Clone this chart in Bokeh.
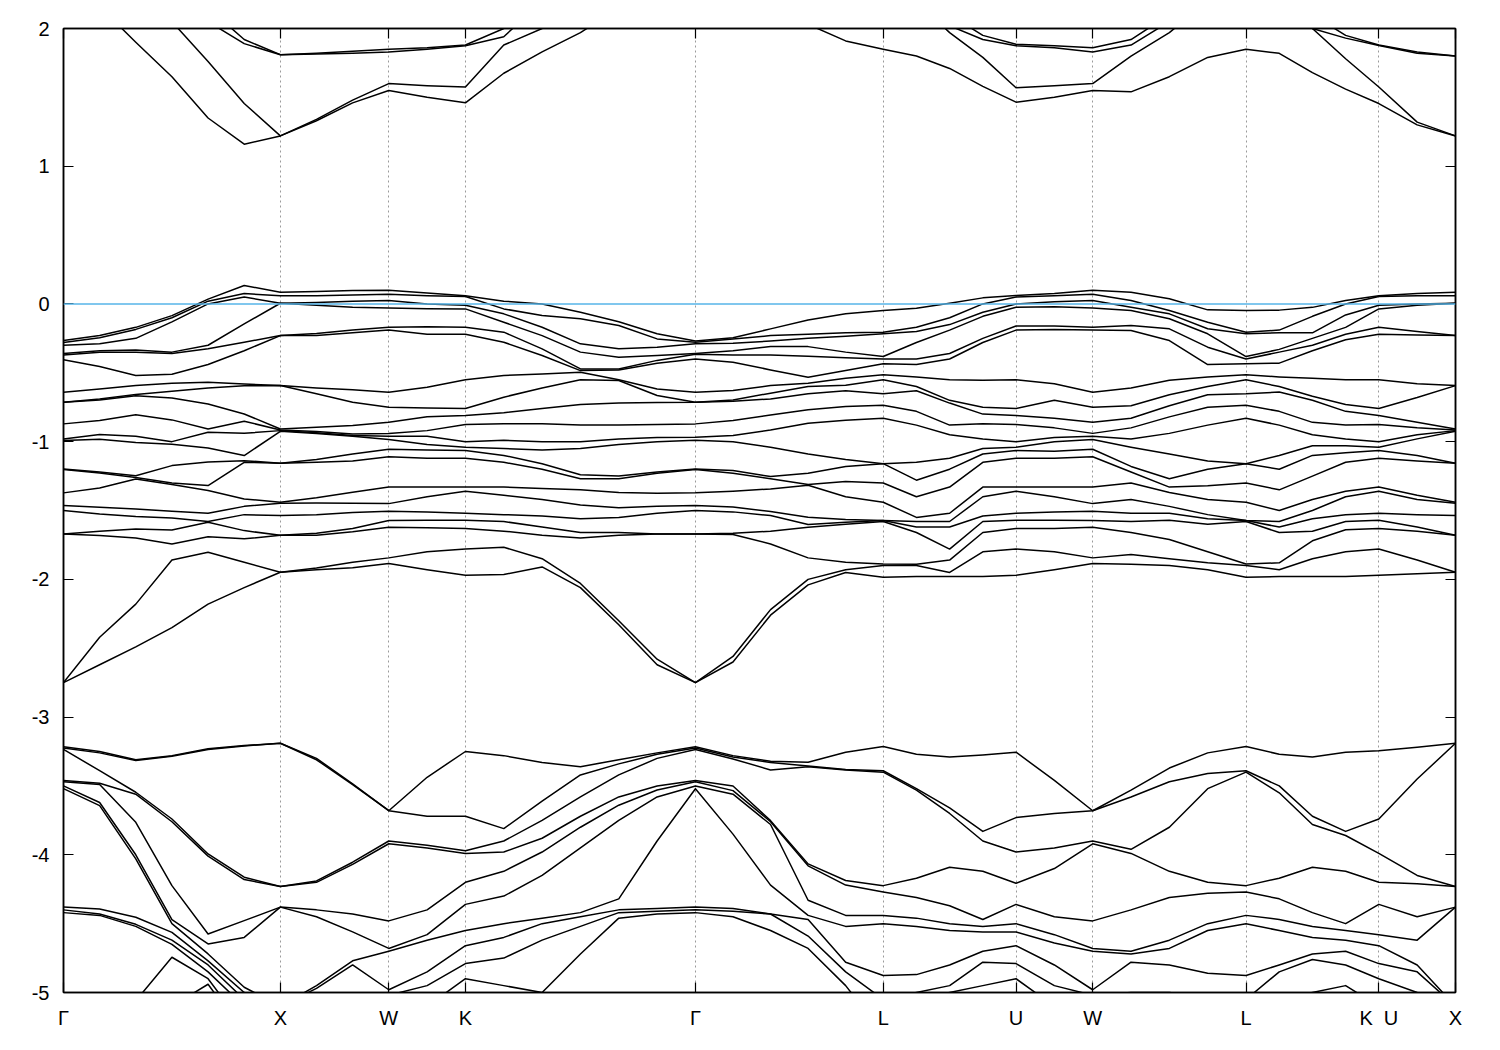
import numpy as np
from bokeh.plotting import figure
from bokeh.models import FixedTicker, LinearAxis, Span, CustomJSTickFormatter
from bokeh.embed import file_html
from bokeh.resources import INLINE

# ---- path through the Brillouin zone (units of 2*pi/a) ----
HSYM_LABELS = ["\u0393", "X", "W", "K", "\u0393", "L", "U", "W", "L", "K\u00a0\u00a0U", "X"]
HSYM_K = [0.0, 1.0, 1.5, 1.8536, 2.9142, 3.7802, 4.3926, 4.7462, 5.4533, 6.0657, 6.4193]
SEG_STEPS = [6, 3, 2, 6, 5, 4, 2, 4, 4, 2]
Y_TICKS = [-5, -4, -3, -2, -1, 0, 1, 2]
Y_TICK_LABELS = ["-5", "-4", "-3", "-2", "-1", "0", "1", "2"]
FERMI_LEVEL = 0.0

# ---- band energies (eV) read at each k-point of the path; order inside a list does not matter ----
E_00 = [2.42, 2.9, 3.1, 3.3,
        -0.265, -0.28, -0.30, -0.36, -0.37, -0.405, -0.641, -0.714, -0.714, -0.871, -0.98, -0.992, -1.198, -1.203, -1.372, -1.464, -1.50, -1.67, -1.67, -2.75, -2.75,
        -3.215, -3.225, -3.235, -3.46, -3.47, -3.50, -3.52, -4.38, -4.40, -4.42, -5.4, -5.6, -5.8, -6.0]
E_01 = [2.16, 2.6, 2.8, 3.0,
        -0.23, -0.245, -0.29, -0.34, -0.35, -0.455, -0.617, -0.69, -0.697, -0.847, -0.949, -0.983, -1.227, -1.22, -1.336, -1.476, -1.525, -1.65, -1.682, -2.42, -2.62,
        -3.25, -3.26, -3.389, -3.48, -3.49, -3.62, -3.643, -4.393, -4.43, -4.44, -5.4, -5.6, -5.8, -6.0]
E_02 = [1.90, 2.35, 2.5, 2.7,
        -0.17, -0.185, -0.25, -0.335, -0.35, -0.52, -0.593, -0.658, -0.666, -0.804, -0.961, -1.007, -1.271, -1.26, -1.247, -1.49, -1.544, -1.634, -1.699, -2.18, -2.49,
        -3.31, -3.315, -3.764, -3.546, -3.56, -4.0, -4.03, -4.454, -4.505, -4.52, -5.06, -5.4, -5.7, -5.9]
E_03 = [1.65, 2.05, 2.25, 2.4,
        -0.085, -0.10, -0.13, -0.35, -0.36, -0.51, -0.576, -0.634, -0.683, -0.842, -1.0, -1.019, -1.312, -1.30, -1.174, -1.505, -1.554, -1.641, -1.743, -1.86, -2.35,
        -3.28, -3.285, -4.224, -3.74, -3.76, -4.47, -4.50, -4.563, -4.62, -4.65, -4.744, -5.1, -5.6, -5.8]
E_04 = [1.35, 1.76, 2.05, 2.15,
        0.035, 0.02, 0.0, -0.30, -0.326, -0.44, -0.569, -0.61, -0.726, -0.908, -0.932, -1.046, -1.319, -1.355, -1.147, -1.52, -1.585, -1.69, -1.803, -1.58, -2.18,
        -3.23, -3.235, -4.647, -3.994, -4.01, -4.90, -4.94, -4.72, -4.77, -4.80, -4.575, -4.85, -5.45, -5.6]
E_05 = [1.16, 1.455, 1.89, 1.92,
        0.134, 0.075, 0.05, -0.145, -0.278, -0.34, -0.581, -0.595, -0.799, -0.939, -0.852, -1.101, -1.138, -1.416, -1.15, -1.53, -1.646, -1.706, -1.876, -1.47, -2.06,
        -3.207, -3.21, -5.1, -4.163, -4.18, -5.25, -5.3, -4.962, -5.0, -5.05, -4.478, -4.6, -5.3, -5.4]
E_06 = [1.22, 1.22, 1.81, 1.81,
        0.085, 0.06, 0.005, 0.005, -0.23, -0.23, -0.593, -0.593, -0.908, -0.915, -0.92, -0.925, -1.157, -1.157, -1.44, -1.447, -1.537, -1.68, -1.68, -1.948, -1.948,
        -3.19, -3.19, -4.23, -4.23, -4.38, -4.38, -5.1, -5.1, -5.2, -5.25, -5.3, -5.3, -5.45, -5.5]
E_07 = [1.33, 1.34, 1.815, 1.82,
        0.09, 0.06, 0.01, -0.01, -0.215, -0.23, -0.61, -0.653, -0.896, -0.927, -0.935, -0.94, -1.13, -1.15, -1.408, -1.445, -1.53, -1.665, -1.68, -1.917, -1.93,
        -3.30, -3.31, -4.19, -4.20, -4.40, -4.45, -4.95, -4.97, -5.3, -5.35, -5.35, -5.4, -5.5, -5.55]
E_08 = [1.46, 1.48, 1.82, 1.835,
        0.097, 0.065, 0.02, -0.025, -0.19, -0.21, -0.624, -0.714, -0.883, -0.944, -0.955, -0.96, -1.09, -1.14, -1.367, -1.447, -1.515, -1.63, -1.655, -1.876, -1.915,
        -3.485, -3.49, -4.054, -4.07, -4.43, -4.56, -4.77, -4.80, -5.3, -5.35, -5.4, -5.45, -5.55, -5.6]
E_09 = [1.55, 1.60, 1.83, 1.85,
        0.10, 0.07, 0.025, -0.03, -0.17, -0.19, -0.641, -0.75, -0.86, -0.94, -0.96, -0.985, -1.055, -1.11, -1.33, -1.45, -1.505, -1.573, -1.622, -1.844, -1.885,
        -3.68, -3.68, -3.90, -3.92, -4.48, -4.68, -4.70, -4.98, -5.02, -5.2, -5.3, -5.5, -5.7, -5.8]
E_10 = [1.50, 1.585, 1.85, 1.86,
        0.08, 0.06, 0.0, -0.035, -0.165, -0.22, -0.605, -0.755, -0.82, -0.92, -0.96, -1.02, -1.06, -1.12, -1.33, -1.40, -1.51, -1.57, -1.625, -1.80, -1.93,
        -3.437, -3.72, -3.93, -3.95, -4.40, -4.58, -4.62, -4.85, -4.95, -5.1, -5.3, -5.4, -5.6, -5.8]
E_11 = [1.46, 1.575, 1.875, 1.88,
        0.06, 0.054, -0.01, -0.036, -0.17, -0.22, -0.55, -0.76, -0.81, -0.876, -1.0, -1.04, -1.065, -1.12, -1.33, -1.36, -1.52, -1.57, -1.63, -1.78, -1.97,
        -3.25, -3.72, -3.97, -3.99, -4.20, -4.36, -4.55, -4.66, -4.79, -4.90, -5.1, -5.3, -5.5, -5.7]
E_12 = [1.675, 1.88, 1.94, 2.0,
        0.02, -0.036, -0.072, -0.133, -0.205, -0.278, -0.52, -0.677, -0.79, -0.87, -0.99, -1.05, -1.10, -1.15, -1.33, -1.39, -1.53, -1.58, -1.65, -1.767, -1.965,
        -3.28, -3.81, -3.90, -3.98, -4.12, -4.30, -5.4, -4.50, -4.60, -4.75, -4.95, -5.15, -5.35, -5.75]
E_13 = [1.83, 2.0, 2.2, 2.25,
        0.0, -0.084, -0.169, -0.23, -0.326, -0.375, -0.508, -0.61, -0.76, -0.87, -1.0, -1.06, -1.16, -1.20, -1.34, -1.42, -1.54, -1.62, -1.68, -1.85, -1.91,
        -3.33, -3.61, -3.75, -3.88, -3.98, -4.15, -5.05, -4.46, -4.50, -4.62, -5.0, -5.2, -5.4, -5.8]
E_14 = [1.97, 2.3, 2.45, 2.5,
        -0.06, -0.108, -0.29, -0.35, -0.472, -0.484, -0.496, -0.55, -0.73, -0.88, -1.0, -1.05, -1.24, -1.27, -1.35, -1.46, -1.56, -1.66, -1.70, -2.03, -2.06,
        -3.36, -3.42, -3.58, -3.72, -3.80, -3.95, -4.72, -4.42, -4.45, -4.52, -5.1, -5.3, -5.5, -5.85]
E_15 = [2.15, 2.5, 2.6, 2.7,
        -0.13, -0.157, -0.326, -0.387, -0.556, -0.551, -0.472, -0.48, -0.72, -0.88, -0.98, -1.02, -1.25, -1.27, -1.37, -1.48, -1.55, -1.68, -1.66, -2.30, -2.33,
        -3.34, -3.31, -3.42, -3.58, -3.64, -3.75, -4.32, -4.40, -4.42, -4.46, -5.2, -5.4, -5.6, -5.9]
E_16 = [2.30, 2.7, 2.8, 2.9,
        -0.217, -0.254, -0.314, -0.375, -0.617, -0.665, -0.43, -0.41, -0.715, -0.875, -0.97, -1.0, -1.22, -1.23, -1.375, -1.47, -1.52, -1.67, -1.67, -2.58, -2.62,
        -3.27, -3.26, -3.30, -3.50, -3.53, -3.58, -3.90, -4.39, -4.41, -4.43, -5.3, -5.5, -5.7, -5.95]
E_17 = [2.45, 2.8, 2.9, 3.0,
        -0.27, -0.278, -0.29, -0.36, -0.365, -0.40, -0.641, -0.714, -0.714, -0.871, -0.968, -0.99, -1.198, -1.203, -1.372, -1.464, -1.50, -1.67, -1.67, -2.75, -2.75,
        -3.215, -3.225, -3.235, -3.46, -3.47, -3.50, -3.52, -4.38, -4.40, -4.42, -5.4, -5.6, -5.8, -6.0]
E_18 = [2.35, 2.85, 2.95, 3.05,
        -0.246, -0.255, -0.285, -0.34, -0.37, -0.423, -0.629, -0.697, -0.706, -0.847, -0.956, -1.0, -1.21, -1.23, -1.36, -1.475, -1.51, -1.665, -1.675, -2.56, -2.60,
        -3.304, -3.28, -3.29, -3.534, -3.56, -3.50, -3.85, -4.39, -4.41, -4.45, -5.4, -5.6, -5.8, -6.0]
E_19 = [2.2, 2.7, 2.9, 3.0,
        -0.181, -0.23, -0.27, -0.31, -0.37, -0.479, -0.593, -0.648, -0.69, -0.806, -0.915, -1.04, -1.253, -1.27, -1.343, -1.508, -1.537, -1.65, -1.743, -2.22, -2.26,
        -3.384, -3.32, -3.33, -3.752, -3.76, -3.78, -4.22, -4.43, -4.43, -4.55, -5.4, -5.6, -5.8, -6.0]
E_20 = [2.03, 2.55, 2.8, 2.9,
        -0.116, -0.22, -0.25, -0.31, -0.38, -0.532, -0.576, -0.60, -0.653, -0.769, -0.866, -1.09, -1.23, -1.312, -1.316, -1.549, -1.602, -1.622, -1.844, -2.0, -2.04,
        -3.328, -3.355, -3.36, -4.066, -4.08, -4.33, -4.59, -4.47, -4.44, -4.68, -5.4, -5.55, -5.75, -5.95]
E_21 = [1.91, 2.4, 2.7, 2.8,
        -0.072, -0.21, -0.235, -0.35, -0.39, -0.484, -0.54, -0.59, -0.63, -0.745, -0.845, -1.13, -1.18, -1.29, -1.40, -1.565, -1.585, -1.60, -1.875, -1.93, -1.95,
        -3.255, -3.385, -3.38, -4.187, -4.22, -4.78, -4.95, -4.52, -4.44, -4.85, -5.35, -5.5, -5.7, -5.9]
E_22 = [1.85, 2.3, 2.6, 2.7,
        -0.048, -0.205, -0.217, -0.382, -0.40, -0.435, -0.515, -0.55, -0.653, -0.735, -0.83, -1.16, -1.16, -1.30, -1.44, -1.573, -1.573, -1.58, -1.888, -1.90, -1.985,
        -3.214, -3.39, -3.40, -4.224, -4.27, -4.877, -5.3, -4.50, -4.44, -5.05, -5.35, -5.5, -5.7, -5.9]
E_23 = [1.80, 2.2, 2.4, 2.5,
        -0.031, -0.17, -0.20, -0.28, -0.40, -0.44, -0.53, -0.60, -0.63, -0.78, -0.88, -1.15, -1.28, -1.40, -1.55, -1.58, -1.62, -1.66, -1.89, -1.90, -1.98,
        -3.27, -3.52, -3.53, -4.17, -4.31, -4.46, -4.52, -4.87, -5.0, -5.05, -5.35, -5.5, -5.7, -5.9]
E_24 = [1.71, 1.97, 2.02, 2.1,
        0.005, -0.10, -0.15, -0.19, -0.36, -0.40, -0.55, -0.70, -0.72, -0.88, -0.95, -1.12, -1.20, -1.33, -1.52, -1.58, -1.62, -1.78, -1.86, -1.95, -1.98,
        -3.29, -3.66, -3.70, -4.09, -4.37, -4.50, -4.55, -4.80, -4.95, -5.0, -5.3, -5.5, -5.7, -5.9]
E_25 = [1.58, 1.79, 1.92, 1.95,
        0.044, 0.0, -0.06, -0.09, -0.25, -0.28, -0.555, -0.75, -0.80, -0.87, -0.98, -1.05, -1.09, -1.15, -1.33, -1.40, -1.54, -1.58, -1.66, -1.80, -1.98,
        -3.275, -3.83, -3.90, -4.12, -4.47, -4.52, -4.56, -4.70, -4.78, -4.95, -5.2, -5.4, -5.6, -5.8]
E_26 = [1.465, 1.57, 1.875, 1.885,
        0.061, 0.05, 0.0, -0.024, -0.16, -0.19, -0.55, -0.76, -0.81, -0.876, -1.0, -1.04, -1.065, -1.12, -1.33, -1.36, -1.52, -1.57, -1.63, -1.78, -1.97,
        -3.255, -3.73, -3.98, -4.207, -4.36, -4.50, -4.56, -4.66, -4.79, -4.90, -5.1, -5.3, -5.5, -5.7]
E_27 = [1.50, 1.585, 1.86, 1.875,
        0.075, 0.06, 0.015, -0.02, -0.16, -0.185, -0.58, -0.70, -0.83, -0.90, -0.97, -1.00, -1.07, -1.12, -1.33, -1.40, -1.51, -1.57, -1.63, -1.80, -1.93,
        -3.46, -3.70, -3.95, -4.10, -4.45, -4.58, -4.64, -4.80, -4.95, -5.1, -5.2, -5.4, -5.6, -5.75]
E_28 = [1.55, 1.60, 1.83, 1.86,
        0.10, 0.07, 0.025, -0.03, -0.17, -0.19, -0.641, -0.75, -0.86, -0.94, -0.96, -0.985, -1.055, -1.11, -1.33, -1.45, -1.505, -1.573, -1.622, -1.844, -1.885,
        -3.68, -3.68, -3.90, -3.92, -4.48, -4.68, -4.70, -4.98, -5.02, -5.2, -5.3, -5.5, -5.7, -5.8]
E_29 = [1.54, 1.80, 1.88, 1.92,
        0.085, 0.025, -0.024, -0.048, -0.157, -0.193, -0.61, -0.74, -0.83, -0.90, -0.98, -1.04, -1.18, -1.22, -1.30, -1.42, -1.52, -1.58, -1.66, -1.82, -1.89,
        -3.53, -3.58, -3.96, -3.99, -4.40, -4.70, -4.72, -4.78, -5.0, -5.1, -5.3, -5.5, -5.7, -5.85]
E_30 = [1.65, 1.97, 2.05, 2.1,
        0.037, -0.048, -0.072, -0.108, -0.181, -0.266, -0.555, -0.66, -0.74, -0.82, -0.94, -1.09, -1.27, -1.33, -1.37, -1.47, -1.52, -1.57, -1.71, -1.85, -1.90,
        -3.37, -3.47, -3.80, -4.12, -4.31, -4.62, -4.68, -4.80, -5.0, -5.15, -5.35, -5.5, -5.7, -5.9]
E_31 = [1.79, 2.2, 2.3, 2.4,
        -0.043, -0.133, -0.18, -0.217, -0.314, -0.44, -0.53, -0.60, -0.66, -0.75, -0.88, -1.14, -1.20, -1.32, -1.42, -1.53, -1.56, -1.60, -1.80, -1.88, -1.93,
        -3.26, -3.41, -3.52, -4.20, -4.28, -4.50, -4.55, -4.86, -5.03, -5.25, -5.35, -5.5, -5.7, -5.9]
E_32 = [1.85, 2.3, 2.5, 2.6,
        -0.048, -0.205, -0.217, -0.382, -0.40, -0.435, -0.515, -0.55, -0.653, -0.735, -0.83, -1.16, -1.16, -1.30, -1.44, -1.573, -1.573, -1.58, -1.888, -1.90, -1.985,
        -3.214, -3.39, -3.40, -4.224, -4.27, -4.877, -5.3, -4.50, -4.44, -5.05, -5.35, -5.5, -5.7, -5.9]
E_33 = [1.82, 2.2, 2.3, 2.4,
        -0.045, -0.19, -0.21, -0.33, -0.35, -0.43, -0.53, -0.60, -0.64, -0.78, -0.88, -1.10, -1.20, -1.35, -1.50, -1.58, -1.62, -1.66, -1.88, -1.93, -1.98,
        -3.27, -3.50, -3.55, -4.17, -4.32, -4.47, -4.55, -4.80, -4.85, -5.05, -5.35, -5.5, -5.7, -5.9]
E_34 = [1.68, 2.0, 2.0, 2.1,
        -0.025, -0.09, -0.21, -0.25, -0.30, -0.34, -0.54, -0.67, -0.70, -0.86, -0.95, -1.03, -1.10, -1.25, -1.42, -1.50, -1.56, -1.65, -1.72, -1.85, -1.98,
        -3.29, -3.72, -3.78, -4.09, -4.42, -4.52, -4.60, -4.72, -4.76, -5.0, -5.3, -5.5, -5.7, -5.9]
E_35 = [1.56, 1.78, 1.93, 1.95,
        0.025, 0.0, -0.08, -0.17, -0.22, -0.26, -0.55, -0.73, -0.78, -0.88, -0.98, -1.03, -1.08, -1.15, -1.36, -1.40, -1.53, -1.58, -1.64, -1.80, -1.98,
        -3.255, -3.83, -3.86, -4.12, -4.50, -4.55, -4.62, -4.70, -4.80, -4.95, -5.2, -5.4, -5.6, -5.8]
E_36 = [1.455, 1.575, 1.877, 1.88,
        0.06, 0.054, -0.01, -0.036, -0.17, -0.22, -0.55, -0.76, -0.81, -0.876, -1.0, -1.04, -1.065, -1.12, -1.33, -1.36, -1.52, -1.57, -1.63, -1.78, -1.97,
        -3.245, -3.74, -3.99, -4.20, -4.36, -4.58, -4.66, -4.79, -4.90, -5.1, -5.3, -5.5, -5.7, -5.8]
E_37 = [1.30, 1.32, 1.82, 1.83,
        0.075, 0.06, 0.0, -0.01, -0.20, -0.225, -0.58, -0.68, -0.86, -0.90, -0.95, -0.98, -1.10, -1.14, -1.39, -1.42, -1.53, -1.62, -1.65, -1.86, -1.96,
        -3.22, -3.45, -4.15, -4.21, -4.45, -4.62, -4.80, -4.85, -5.0, -5.2, -5.3, -5.4, -5.55, -5.6]
E_38 = [1.22, 1.22, 1.80, 1.80,
        0.085, 0.06, 0.005, 0.005, -0.23, -0.23, -0.593, -0.593, -0.908, -0.915, -0.92, -0.925, -1.157, -1.157, -1.44, -1.447, -1.537, -1.68, -1.68, -1.948, -1.948,
        -3.19, -3.19, -4.23, -4.23, -4.38, -4.38, -5.1, -5.1, -5.2, -5.25, -5.3, -5.3, -5.45, -5.5]

COLUMNS = [E_00, E_01, E_02, E_03, E_04, E_05, E_06, E_07, E_08, E_09,
           E_10, E_11, E_12, E_13, E_14, E_15, E_16, E_17, E_18, E_19,
           E_20, E_21, E_22, E_23, E_24, E_25, E_26, E_27, E_28, E_29,
           E_30, E_31, E_32, E_33, E_34, E_35, E_36, E_37, E_38]

# k-point grid: evenly spaced points on each segment of the path
k_grid = [HSYM_K[0]]
for a, b, n in zip(HSYM_K[:-1], HSYM_K[1:], SEG_STEPS):
    k_grid += list(np.linspace(a, b, n + 1)[1:])
k_grid = np.array(k_grid)

energies = np.sort(np.array(COLUMNS, dtype=float), axis=1)  # (k-points, bands), bands ordered by energy
xs = [list(k_grid) for _ in range(energies.shape[1])]
ys = [list(energies[:, j]) for j in range(energies.shape[1])]

FONT = "Liberation Sans"

p = figure(frame_width=1392, frame_height=964,
           x_range=(HSYM_K[0], HSYM_K[-1]), y_range=(min(Y_TICKS), max(Y_TICKS)),
           output_backend="svg", toolbar_location=None,
           min_border_left=63, min_border_top=28, min_border_right=20, min_border_bottom=45,
           background_fill_color="white", border_fill_color="white")

p.outline_line_color = "black"
p.outline_line_width = 1.5

# bands
p.multi_line(xs, ys, line_color="black", line_width=1.5, line_join="round")

# Fermi level
p.add_layout(Span(location=FERMI_LEVEL, dimension="width", line_color="#56B4E9", line_width=1.6))

# axes
xax = p.xaxis[0]
xax.ticker = FixedTicker(ticks=HSYM_K)
xax.major_label_overrides = {k: lab for k, lab in zip(HSYM_K, HSYM_LABELS)}
yax = p.yaxis[0]
yax.ticker = FixedTicker(ticks=Y_TICKS)
yax.major_label_overrides = {t: lab for t, lab in zip(Y_TICKS, Y_TICK_LABELS)}
for ax in (xax, yax):
    ax.major_tick_in = 10
    ax.major_tick_out = 0
    ax.minor_tick_line_color = None
    ax.major_tick_line_color = "black"
    ax.major_tick_line_width = 1.2
    ax.axis_line_color = "black"
    ax.axis_line_width = 1.5
    ax.major_label_text_font = FONT
    ax.major_label_text_font_size = "20px"
    ax.major_label_text_color = "black"
xax.major_label_standoff = 14
yax.major_label_standoff = 14

top = LinearAxis(ticker=FixedTicker(ticks=HSYM_K), formatter=CustomJSTickFormatter(code="return ''"))
right = LinearAxis(ticker=FixedTicker(ticks=Y_TICKS), formatter=CustomJSTickFormatter(code="return ''"))
for ax in (top, right):
    ax.major_tick_in = 10
    ax.major_tick_out = 0
    ax.minor_tick_line_color = None
    ax.major_tick_line_color = "black"
    ax.major_tick_line_width = 1.2
    ax.axis_line_color = "black"
    ax.axis_line_width = 1.5
    ax.major_label_standoff = 0
p.add_layout(top, "above")
p.add_layout(right, "right")

# dotted vertical lines at high-symmetry points
p.xgrid.ticker = FixedTicker(ticks=HSYM_K[1:-1])
p.xgrid.grid_line_color = "#9a9a9a"
p.xgrid.grid_line_dash = "2 3"
p.xgrid.grid_line_width = 1
p.ygrid.grid_line_color = None

open("out.html", "w").write(file_html(p, INLINE))
